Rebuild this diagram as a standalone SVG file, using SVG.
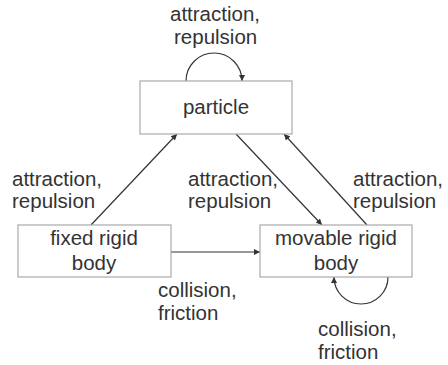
<svg xmlns="http://www.w3.org/2000/svg" width="448" height="365" viewBox="0 0 448 365">
<style>
.box{fill:#fff;stroke:#aaa;stroke-width:1.2}
.t{font-family:"Liberation Sans",Arial,sans-serif;font-size:20.5px;fill:#333}
.c{text-anchor:middle}
.e{fill:none;stroke:#333;stroke-width:1.2;marker-end:url(#ah)}
</style>
<defs>
<marker id="ah" viewBox="0 0 10 10" refX="10" refY="5" markerWidth="7" markerHeight="6" markerUnits="userSpaceOnUse" orient="auto">
<path d="M0,0 L10,5 L0,10 z" fill="#333"/>
</marker>
</defs>
<rect width="448" height="365" fill="#fff"/>
<g id="connectors">
<path class="e" d="M186,81 A28,28 0 0 1 242,81"/>
<path class="e" d="M91,225 L177,134"/>
<path class="e" d="M236,134 L322,225"/>
<path class="e" d="M367,225 L284,134"/>
<path class="e" d="M171,252 L260,252"/>
<path class="e" d="M388,277 A27,27 0 0 1 334,277"/>
</g>
<g id="labels">
<text class="t" x="170" y="21">attraction,</text>
<text class="t" x="174" y="44">repulsion</text>
<text class="t" x="12" y="186">attraction,</text>
<text class="t" x="12" y="208">repulsion</text>
<text class="t" x="188" y="186">attraction,</text>
<text class="t" x="188" y="208">repulsion</text>
<text class="t" x="353" y="186">attraction,</text>
<text class="t" x="353" y="208">repulsion</text>
<text class="t" x="158" y="297">collision,</text>
<text class="t" x="158" y="320">friction</text>
<text class="t" x="318" y="336">collision,</text>
<text class="t" x="318" y="359">friction</text>
</g>
<g id="particle">
<rect class="box" x="140" y="81" width="152" height="53"/>
<text class="t c" x="216" y="114">particle</text>
</g>
<g id="fixed">
<rect class="box" x="18" y="225" width="153" height="52"/>
<text class="t c" x="94" y="245">fixed rigid</text>
<text class="t c" x="94" y="270">body</text>
</g>
<g id="movable">
<rect class="box" x="260" y="225" width="152" height="52"/>
<text class="t c" x="336" y="245">movable rigid</text>
<text class="t c" x="336" y="270">body</text>
</g>
</svg>
